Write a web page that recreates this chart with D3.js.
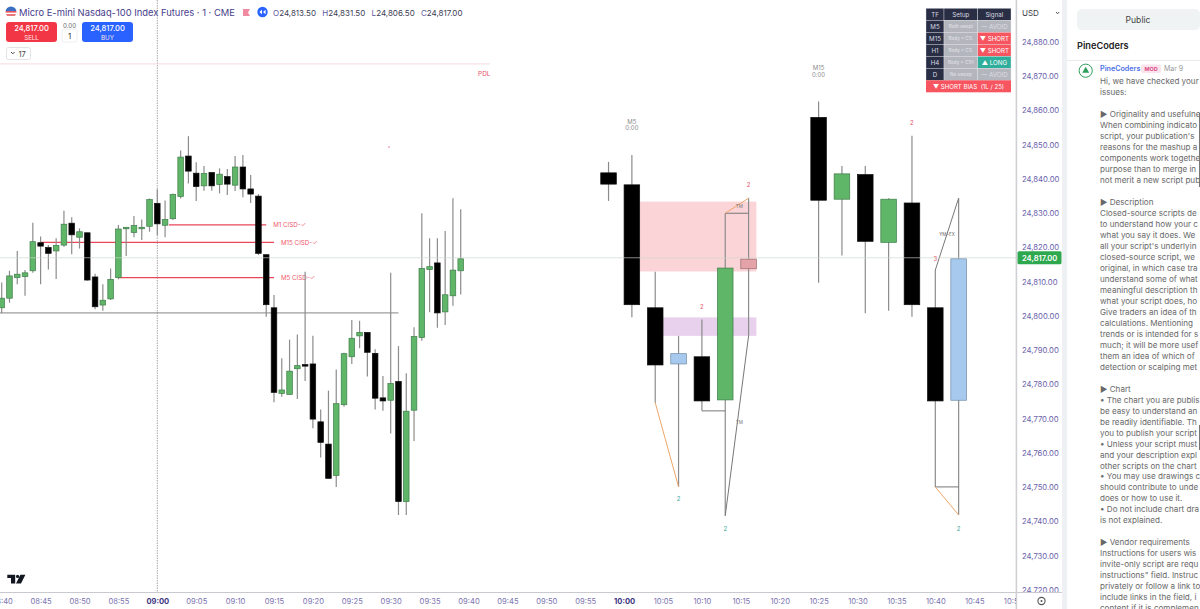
<!DOCTYPE html>
<html>
<head>
<meta charset="utf-8">
<script src="https://cdn.jsdelivr.net/npm/d3@7"></script>
<style>
  html, body { margin: 0; padding: 0; background: #fff; overflow: hidden; }
  svg { display: block; font-family: Inter, "Noto Sans", sans-serif; }
</style>
</head>
<body>
<svg id="chart" width="1200" height="609"></svg>
<script>
// time is in minutes after 09:00
const priceTicks = d3.range(24720, 24881, 10);
const timeTicks = d3.range(-20, 111, 5);
const timeLabels = ["08:40", "08:45", "08:50", "08:55", "09:00", "09:05", "09:10", "09:15", "09:20", "09:25", "09:30", "09:35", "09:40", "09:45", "09:50", "09:55", "10:00", "10:05", "10:10", "10:15", "10:20", "10:25", "10:30", "10:35", "10:40", "10:45", "10:50"];
const boldLabels = ["09:00", "10:00"];

// 1 minute candles, -20 to 39
const m1Times = d3.range(-20, 40);
const m1Open = [24802.4, 24805.2, 24811.2, 24811.5, 24813.2, 24821.4, 24820, 24819, 24820.7, 24827.1, 24823, 24824.3, 24811.4, 24803.2, 24805, 24811.2, 24825.7, 24824.4, 24825.7, 24826.2, 24832.9, 24826.5, 24828.4, 24834.9, 24846.7, 24841.7, 24838, 24841.9, 24838.4, 24840.7, 24838.2, 24843.5, 24837.1, 24835, 24817.9, 24802.4, 24777.4, 24777.1, 24784.6, 24785.8, 24786, 24769.1, 24762.6, 24753.4, 24774.1, 24788.1, 24794.2, 24795.2, 24789.1, 24776.1, 24775.4, 24780.9, 24745.8, 24772.5, 24793.7, 24813.6, 24815.5, 24801.2, 24805.9, 24813.2];
const m1High = [24809.8, 24813.2, 24819, 24813.4, 24827.2, 24823.2, 24820.7, 24822.7, 24830.7, 24828.8, 24825.6, 24824.3, 24812.3, 24809.3, 24813.9, 24826.6, 24826, 24829.2, 24828.2, 24834.3, 24837, 24833.7, 24835.8, 24848.3, 24852.5, 24844.9, 24843.8, 24841.9, 24843.1, 24842.9, 24846.7, 24847, 24841.2, 24835.6, 24818.1, 24806.1, 24787.7, 24793.1, 24794.6, 24812.9, 24794.2, 24772.7, 24778.2, 24784.4, 24789.3, 24798.8, 24798.6, 24795.3, 24790.3, 24782.5, 24812.6, 24791.2, 24783.3, 24796.7, 24830, 24822.7, 24822.7, 24824.8, 24834.4, 24831.2];
const m1Low = [24800.8, 24803.9, 24809.3, 24805.9, 24812.6, 24809.3, 24813.6, 24810.8, 24820.2, 24818, 24819.7, 24810.3, 24802, 24801.5, 24804.7, 24810.7, 24817.5, 24823, 24822.2, 24824.6, 24823.6, 24823, 24828, 24834.3, 24838.7, 24833.6, 24836.6, 24836.6, 24835.8, 24835.3, 24836.5, 24834.7, 24833, 24817.8, 24799.8, 24774.8, 24776.4, 24777.1, 24775.8, 24781, 24767.2, 24758.7, 24752.6, 24750.1, 24773.5, 24786, 24790.6, 24782.3, 24772.7, 24772.3, 24765.7, 24741.9, 24741.9, 24763.5, 24792.8, 24801.1, 24796.6, 24797.4, 24803, 24806.3];
const m1Close = [24805.2, 24811.7, 24812.2, 24812.6, 24821.7, 24820.4, 24818.3, 24820.6, 24826.8, 24823.7, 24824.6, 24810.5, 24802.7, 24804.6, 24810.7, 24825.4, 24825.9, 24826.4, 24825.9, 24834, 24826.9, 24828.2, 24835.5, 24846.4, 24842.3, 24837.8, 24841.6, 24838, 24841.4, 24838.5, 24843.5, 24837.1, 24835.6, 24818.3, 24803.3, 24777.7, 24778.4, 24783.9, 24785.5, 24785.5, 24769.9, 24763.1, 24752.6, 24774.4, 24789, 24793.5, 24795.2, 24789.4, 24776, 24775.2, 24780.3, 24745.8, 24772.2, 24794, 24813.9, 24814.4, 24800.9, 24806.2, 24813.4, 24816.7];

// projected M5 candles
const m5Times = [58, 61, 64, 67, 70, 73, 76];
const m5Open = [24841.8, 24838.3, 24802.4, 24786, 24788.1, 24775.5, 24816.6];
const m5High = [24845, 24847, 24812.9, 24794.2, 24799, 24830, 24834.4];
const m5Low = [24833.6, 24799.6, 24774.7, 24750.1, 24772.3, 24741.7, 24794.2];
const m5Close = [24838.5, 24803.3, 24785.7, 24789, 24775.2, 24814, 24813.8];
const m5Kinds = ["down", "down", "down", "blue", "down", "up", "rose"];

// projected M15 candles
const m15Times = [85, 88, 91, 94, 97, 100, 103];
const m15Open = [24858, 24834.1, 24841.3, 24821.5, 24833, 24802.4, 24775.4];
const m15High = [24862.6, 24843.8, 24843.8, 24834.4, 24852.6, 24813.4, 24834.4];
const m15Low = [24809.7, 24817.7, 24800.8, 24801.5, 24799.8, 24750.1, 24741.9];
const m15Close = [24833.8, 24841.5, 24821.8, 24834.1, 24803.3, 24775.2, 24816.7];
const m15Kinds = ["down", "up", "down", "up", "down", "down", "blue"];

// [start, end, top, bottom]
const pinkZone = [62, 77, 24833.4, 24813];
const purpleZone = [65, 77, 24799.6, 24794.2];

// CISD levels [start, end, price, label]
const cisdLevels = [
  [1.5, 14, 24826.6, "M1 CISD-✓"],
  [-15, 15, 24821.5, "M15 CISD-✓"],
  [-5, 15, 24811.2, "M5 CISD-✓"]
];
const pdlPrice = 24873.6;
const blackLevel = 24800.9;
const lastPrice = 24817;

// connector lines [t1, p1, t2, p2]
const orangeLines = [
  [64, 24774.7, 67, 24750.1],
  [73, 24830, 76, 24834.4],
  [100, 24750.1, 103, 24741.9]
];
const grayLines = [
  [70, 24772.3, 73, 24772.3],
  [73, 24830, 76, 24830],
  [76, 24794.2, 73, 24741.7],
  [100, 24813.4, 103, 24834.4],
  [100, 24750.1, 103, 24750.1]
];

// small labels [t, price, text, colour, size]
const redMark = "#e8536a", tealMark = "#3aa79a", grayMark = "#8d8d8d";
const smallLabels = [
  [76, 24838.2, "2", redMark, 6],
  [70, 24802.6, "2", redMark, 6],
  [67, 24746.6, "2", tealMark, 6],
  [73, 24737.9, "2", tealMark, 6],
  [97, 24856.3, "2", redMark, 6],
  [100, 24816.7, "3", redMark, 6],
  [103, 24737.9, "2", tealMark, 6],
  [74.8, 24832.2, "TM", "#777", 4.6],
  [74.8, 24769, "TM", "#777", 4.6],
  [101.5, 24823.8, "YM+EX", "#666", 4.4],
  [61, 24856.7, "M5", grayMark, 6],
  [61, 24854.9, "0:00", grayMark, 6],
  [85, 24872.3, "M15", grayMark, 6],
  [85, 24870.3, "0:00", grayMark, 6]
];

const tableHeader = ["TF", "Setup", "Signal"];
const tableTf = ["M5", "M15", "H1", "H4", "D"];
const tableSetup = ["Both swept", "Body < C1L", "Body < C1L", "Body > C1H", "No sweep"];
const tableSignal = ["— AVOID", "▼ SHORT", "▼ SHORT", "▲ LONG", "— AVOID"];
const tableBias = "▼ SHORT BIAS  (1L / 25)";

const commentLines = [
  "Hi, we have checked your",
  "issues:",
  "",
  "▶ Originality and usefulne",
  "When combining indicato",
  "script, your publication's",
  "reasons for the mashup a",
  "components work togethe",
  "purpose than to merge in",
  "not merit a new script pub",
  "",
  "▶ Description",
  "Closed-source scripts de",
  "to understand how your c",
  "what you say it does. We",
  "all your script's underlyin",
  "closed-source script, we",
  "original, in which case tra",
  "understand some of what",
  "meaningful description th",
  "what your script does, ho",
  "Give traders an idea of th",
  "calculations. Mentioning",
  "trends or is intended for s",
  "much; it will be more usef",
  "them an idea of which of",
  "detection or scalping met",
  "",
  "▶ Chart",
  "• The chart you are publis",
  "be easy to understand an",
  "be readily identifiable. Th",
  "you to publish your script",
  "• Unless your script must",
  "and your description expl",
  "other scripts on the chart",
  "• You may use drawings c",
  "should contribute to unde",
  "does or how to use it.",
  "• Do not include chart dra",
  "is not explained.",
  "",
  "▶ Vendor requirements",
  "Instructions for users wis",
  "invite-only script are requ",
  "instructions\" field. Instruc",
  "privately or follow a link to",
  "include links in the field, i",
  "content if it is complemen"
];

const x = d3.scaleLinear().domain([0, 60]).range([157.3, 157.3 + 60 * 7.78]);
const y = d3.scaleLinear().domain([24880, 24720]).range([42, 590]);

const svg = d3.select("#chart");
const defs = svg.append("defs");
defs.append("clipPath").attr("id", "plotClip").append("rect")
  .attr("x", 0).attr("y", 0).attr("width", 1016).attr("height", 592);
defs.append("clipPath").attr("id", "timeClip").append("rect")
  .attr("x", 0).attr("y", 592).attr("width", 1016).attr("height", 17);
defs.append("clipPath").attr("id", "priceClip").append("rect")
  .attr("x", 1017).attr("y", 22).attr("width", 46).attr("height", 570);
defs.append("clipPath").attr("id", "flagClip").append("circle")
  .attr("cx", 11).attr("cy", 12).attr("r", 5.5);

const plot = svg.append("g").attr("clip-path", "url(#plotClip)");

// zones
[[pinkZone, "#fbd4d7"], [purpleZone, "#e8d1ec"]].forEach(function (z) {
  plot.append("rect")
    .attr("x", x(z[0][0]))
    .attr("y", y(z[0][2]))
    .attr("width", x(z[0][1]) - x(z[0][0]))
    .attr("height", y(z[0][3]) - y(z[0][2]))
    .attr("fill", z[1]);
});

// crosshair and reference levels
plot.append("line")
  .attr("x1", x(0)).attr("x2", x(0)).attr("y1", 0).attr("y2", 592)
  .attr("stroke", "#a8a8a8").attr("stroke-dasharray", "1.5 1");
plot.append("line")
  .attr("x1", 0).attr("x2", 490).attr("y1", y(pdlPrice)).attr("y2", y(pdlPrice))
  .attr("stroke", "#f5dadd").attr("stroke-width", 1);
plot.append("text").text("PDL")
  .attr("x", 478).attr("y", 75.5).attr("font-size", 6.5).attr("fill", "#e8536a");
plot.append("line")
  .attr("x1", 0).attr("x2", x(31)).attr("y1", y(blackLevel)).attr("y2", y(blackLevel))
  .attr("stroke", "#777").attr("stroke-width", 0.9);
plot.append("circle").attr("cx", 389).attr("cy", 147).attr("r", 0.7).attr("fill", "#e8536a");

function drawCandles(times, open, high, low, close, kinds, bodyWidth) {
  const g = plot.append("g");
  const fills = { up: "#5fb568", down: "#000", blue: "#a8c9ee", rose: "#e3a3a8" };
  const strokes = { up: "#3f7d49", down: "#111", blue: "#6d8aa5", rose: "#9d6c70" };
  times.forEach(function (t, i) {
    g.append("line")
      .attr("x1", x(t)).attr("x2", x(t))
      .attr("y1", y(high[i])).attr("y2", y(low[i]))
      .attr("stroke", "#8c8c8c").attr("stroke-width", 1.2);
    const top = Math.min(y(open[i]), y(close[i]));
    const h = Math.max(Math.abs(y(open[i]) - y(close[i])), 1.5);
    g.append("rect")
      .attr("x", x(t) - bodyWidth / 2)
      .attr("y", top)
      .attr("width", bodyWidth)
      .attr("height", h)
      .attr("fill", fills[kinds[i]])
      .attr("stroke", strokes[kinds[i]])
      .attr("stroke-width", 0.7);
  });
}

// CISD lines go under the 1m bars
cisdLevels.forEach(function (d) {
  plot.append("line")
    .attr("x1", x(d[0])).attr("x2", x(d[1]))
    .attr("y1", y(d[2])).attr("y2", y(d[2]))
    .attr("stroke", "#e8475a").attr("stroke-width", 1.3);
  plot.append("text").text(d[3])
    .attr("x", x(d[1]) + 7).attr("y", y(d[2]) + 2.2)
    .attr("font-size", 6.2).attr("fill", "#ee5a6c");
});

const m1Kinds = m1Open.map((o, i) => (m1Close[i] >= o ? "up" : "down"));
drawCandles(m1Times, m1Open, m1High, m1Low, m1Close, m1Kinds, 5.6);
drawCandles(m5Times, m5Open, m5High, m5Low, m5Close, m5Kinds, 15.6);
drawCandles(m15Times, m15Open, m15High, m15Low, m15Close, m15Kinds, 15.6);

function drawConnectors(list, colour) {
  list.forEach(function (d) {
    plot.append("line")
      .attr("x1", x(d[0])).attr("y1", y(d[1]))
      .attr("x2", x(d[2])).attr("y2", y(d[3]))
      .attr("stroke", colour).attr("stroke-width", 1);
  });
}
drawConnectors(grayLines, "#777");
drawConnectors(orangeLines, "#eda768");

smallLabels.forEach(function (d) {
  plot.append("text").text(d[2])
    .attr("x", x(d[0])).attr("y", y(d[1]) + 2)
    .attr("text-anchor", "middle")
    .attr("font-size", d[4])
    .attr("fill", d[3]);
});

plot.append("line")
  .attr("x1", 0).attr("x2", 1016).attr("y1", y(lastPrice)).attr("y2", y(lastPrice))
  .attr("stroke", "#cfd8cf").attr("stroke-width", 0.8).attr("opacity", 0.8);

// TV logo
const logo = svg.append("g").attr("fill", "#131722");
logo.append("path").attr("d", "M7.3 574.8H15.2V583.4H11V578H7.3Z");
logo.append("circle").attr("cx", 17.6).attr("cy", 576.4).attr("r", 1.6);
logo.append("path").attr("d", "M20.4 574.8H25.4L21 583.4H16Z");

// axes frame
svg.append("line").attr("x1", 0).attr("x2", 1062).attr("y1", 592.5).attr("y2", 592.5)
  .attr("stroke", "#c9c9cf");
svg.append("rect").attr("x", 1015.6).attr("y", 0).attr("width", 1.6).attr("height", 609)
  .attr("fill", "#cfcfd4");

const timeAxis = d3.axisBottom(x)
  .tickValues(timeTicks)
  .tickSize(0)
  .tickFormat((d, i) => timeLabels[i]);
const timeG = svg.append("g").attr("clip-path", "url(#timeClip)")
  .append("g").attr("transform", "translate(0,592)").call(timeAxis);
timeG.select(".domain").remove();
timeG.selectAll("text")
  .attr("dy", 0).attr("y", 12)
  .attr("font-family", "Inter")
  .attr("font-size", 7.6)
  .attr("fill", d => (boldLabels.includes(timeLabels[timeTicks.indexOf(d)]) ? "#3d3480" : "#7b74b0"))
  .attr("font-weight", d => (boldLabels.includes(timeLabels[timeTicks.indexOf(d)]) ? 700 : 400));

const priceAxis = d3.axisRight(y)
  .tickValues(priceTicks)
  .tickSize(0)
  .tickFormat(d3.format(",.2f"));
const priceG = svg.append("g").attr("clip-path", "url(#priceClip)")
  .append("g").attr("transform", "translate(1022,0)").call(priceAxis);
priceG.select(".domain").remove();
priceG.selectAll("text")
  .attr("x", 0)
  .attr("font-family", "Inter")
  .attr("font-size", 7.7)
  .attr("fill", "#6a61ab");

// last price flag
svg.append("rect").attr("x", 1017.5).attr("y", y(lastPrice) - 6.5).attr("width", 44).attr("height", 13)
  .attr("rx", 1.5).attr("fill", "#2ea84f");
svg.append("text").text(d3.format(",.2f")(lastPrice))
  .attr("x", 1022).attr("y", y(lastPrice) + 2.8)
  .attr("font-size", 7.6).attr("font-weight", 600).attr("fill", "#fff");

// currency box and gear
svg.append("rect").attr("x", 1019).attr("y", 5).attr("width", 43).attr("height", 15)
  .attr("rx", 2).attr("fill", "#fff");
svg.append("text").text("USD").attr("x", 1022).attr("y", 16)
  .attr("font-size", 8).attr("fill", "#3c3c48");
svg.append("path").attr("d", "M1056 12l1.6 1.8 1.6-1.8").attr("fill", "none").attr("stroke", "#555");
svg.append("circle").attr("cx", 1041.5).attr("cy", 601).attr("r", 3.6)
  .attr("fill", "none").attr("stroke", "#555").attr("stroke-width", 1.1);
svg.append("circle").attr("cx", 1041.5).attr("cy", 601).attr("r", 1).attr("fill", "#555");

// signal table
const colX = [926, 944, 977.7, 1011];
const rowY = 8.3, rowH = 12;
const table = svg.append("g");
function tableCell(col, row, fill, label, colour, size) {
  table.append("rect")
    .attr("x", colX[col]).attr("y", rowY + row * rowH)
    .attr("width", colX[col + 1] - colX[col]).attr("height", rowH)
    .attr("fill", fill).attr("stroke", "#e8e8ec").attr("stroke-width", 0.35);
  table.append("text").text(label)
    .attr("x", (colX[col] + colX[col + 1]) / 2)
    .attr("y", rowY + row * rowH + rowH / 2 + size * 0.36)
    .attr("text-anchor", "middle")
    .attr("font-size", size).attr("fill", colour);
}
const headDark = "#2a2e45", cellGray = "#b4b6be", cellRed = "#f7555f", cellTeal = "#2fae9c";
tableHeader.forEach((t, i) => tableCell(i, 0, headDark, t, "#d8d9e0", 6.2));
tableTf.forEach(function (t, i) {
  tableCell(0, i + 1, headDark, t, "#d8d9e0", 6.2);
  tableCell(1, i + 1, cellGray, tableSetup[i], "#e4e5e9", 4.6);
  const sig = tableSignal[i];
  const fill = sig.includes("SHORT") ? cellRed : sig.includes("LONG") ? cellTeal : cellGray;
  tableCell(2, i + 1, fill, sig, sig.includes("AVOID") ? "#dcdde2" : "#fff", 6.2);
});
table.append("rect").attr("x", colX[0]).attr("y", rowY + 6 * rowH)
  .attr("width", colX[3] - colX[0]).attr("height", rowH).attr("fill", cellRed);
table.append("text").text(tableBias)
  .attr("x", (colX[0] + colX[3]) / 2).attr("y", rowY + 6 * rowH + 8.2)
  .attr("text-anchor", "middle").attr("xml:space", "preserve")
  .attr("font-size", 6.1).attr("fill", "#fff");

// header: symbol line
const flag = svg.append("g").attr("clip-path", "url(#flagClip)");
flag.append("rect").attr("x", 5).attr("y", 6).attr("width", 12).attr("height", 12).attr("fill", "#fff");
flag.append("rect").attr("x", 5).attr("y", 6).attr("width", 12).attr("height", 5).attr("fill", "#3b6fc4");
flag.append("rect").attr("x", 5).attr("y", 11).attr("width", 12).attr("height", 1.6).attr("fill", "#e8545c");
flag.append("rect").attr("x", 5).attr("y", 14.2).attr("width", 12).attr("height", 1.6).attr("fill", "#e8545c");

svg.append("text").text("Micro E-mini Nasdaq-100 Index Futures · 1 · CME")
  .attr("x", 19).attr("y", 16).attr("font-size", 9.4).attr("fill", "#483d8b");
svg.append("path").attr("d", "M243 9H250L248 12.5L250 16H243Z").attr("fill", "#f08aa0");
svg.append("circle").attr("cx", 262.5).attr("cy", 12).attr("r", 5.2).attr("fill", "#2962ff");
svg.append("path").attr("d", "M262 9.8L259.4 12L262 14.2ZM265.6 9.8L263 12L265.6 14.2Z").attr("fill", "#fff");

const ohlcNames = ["O", "H", "L", "C"];
const ohlcValues = ["24,813.50", "24,831.50", "24,806.50", "24,817.00"];
ohlcNames.forEach(function (n, i) {
  const t = svg.append("text").attr("x", 273 + i * 49.3).attr("y", 16).attr("font-size", 8);
  t.append("tspan").text(n).attr("fill", "#5e55a2");
  t.append("tspan").text(ohlcValues[i]).attr("fill", "#3d3d55");
});

// order buttons
function orderButton(bx, fill, price, side) {
  svg.append("rect").attr("x", bx).attr("y", 22).attr("width", 51).attr("height", 20)
    .attr("rx", 3).attr("fill", fill);
  svg.append("text").text(price).attr("x", bx + 25.5).attr("y", 31)
    .attr("text-anchor", "middle").attr("font-size", 7.6).attr("font-weight", 500).attr("fill", "#fff");
  svg.append("text").text(side).attr("x", bx + 25.5).attr("y", 39.5)
    .attr("text-anchor", "middle").attr("font-size", 6.2).attr("fill", "#fde3e3");
}
orderButton(6, "#f23645", "24,817.00", "SELL");
orderButton(82, "#2962ff", "24,817.00", "BUY");
svg.append("text").text("0.00").attr("x", 69.5).attr("y", 27.5)
  .attr("text-anchor", "middle").attr("font-size", 6.2).attr("fill", "#666");
svg.append("rect").attr("x", 62).attr("y", 29).attr("width", 15).attr("height", 13)
  .attr("rx", 2).attr("fill", "#fff").attr("stroke", "#eee");
svg.append("text").text("1").attr("x", 69.5).attr("y", 38.5)
  .attr("text-anchor", "middle").attr("font-size", 7.8).attr("fill", "#333");
svg.append("rect").attr("x", 6.5).attr("y", 47.5).attr("width", 24).attr("height", 12)
  .attr("rx", 2).attr("fill", "#fff").attr("stroke", "#e3e3e6");
svg.append("path").attr("d", "M11 52l1.8 1.8L14.6 52").attr("fill", "none").attr("stroke", "#444");
svg.append("text").text("17").attr("x", 18.5).attr("y", 56.5)
  .attr("font-size", 7.6).attr("fill", "#444");

// right hand comment panel
svg.append("rect").attr("x", 1062).attr("y", 0).attr("width", 5).attr("height", 609).attr("fill", "#eef0f4");
svg.append("rect").attr("x", 1077).attr("y", 9).attr("width", 123).attr("height", 21)
  .attr("rx", 5).attr("fill", "#f0f3f3");
svg.append("text").text("Public").attr("x", 1138).attr("y", 23)
  .attr("text-anchor", "middle").attr("font-size", 8.6).attr("fill", "#444");
svg.append("text").text("PineCoders").attr("x", 1077).attr("y", 49)
  .attr("font-size", 9.2).attr("font-weight", 600).attr("fill", "#222");
svg.append("line").attr("x1", 1067).attr("x2", 1200).attr("y1", 60.5).attr("y2", 60.5)
  .attr("stroke", "#eaeaea");

svg.append("circle").attr("cx", 1085.7).attr("cy", 70.7).attr("r", 6.6)
  .attr("fill", "#fff").attr("stroke", "#2e9e5b").attr("stroke-width", 1);
svg.append("path").attr("d", "M1085.7 66.7L1089.2 72.7H1082.2Z").attr("fill", "#2e9e5b");
svg.append("text").text("PineCoders").attr("x", 1100).attr("y", 71.3)
  .attr("font-size", 7.2).attr("font-weight", 600).attr("fill", "#4d6fe8");
svg.append("rect").attr("x", 1141).attr("y", 64.5).attr("width", 20).attr("height", 8.5)
  .attr("rx", 2).attr("fill", "#fbe4ec");
svg.append("text").text("MOD").attr("x", 1151).attr("y", 71)
  .attr("text-anchor", "middle").attr("font-size", 5.4).attr("font-weight", 700).attr("fill", "#d94a85");
svg.append("text").text("Mar 9").attr("x", 1164).attr("y", 71.3)
  .attr("font-size", 7).attr("fill", "#999");

svg.append("g").selectAll("text")
  .data(commentLines)
  .join("text")
  .text(d => d)
  .attr("x", 1100)
  .attr("y", (d, i) => 84.2 + i * 10.98)
  .attr("font-size", 8.1)
  .attr("fill", "#686868");

// edge of the next window along the right border
svg.append("line").attr("x1", 1199.5).attr("x2", 1199.5).attr("y1", 113).attr("y2", 187)
  .attr("stroke", "#777");
svg.append("line").attr("x1", 1199.5).attr("x2", 1199.5).attr("y1", 425).attr("y2", 450)
  .attr("stroke", "#777");
</script>
</body>
</html>
